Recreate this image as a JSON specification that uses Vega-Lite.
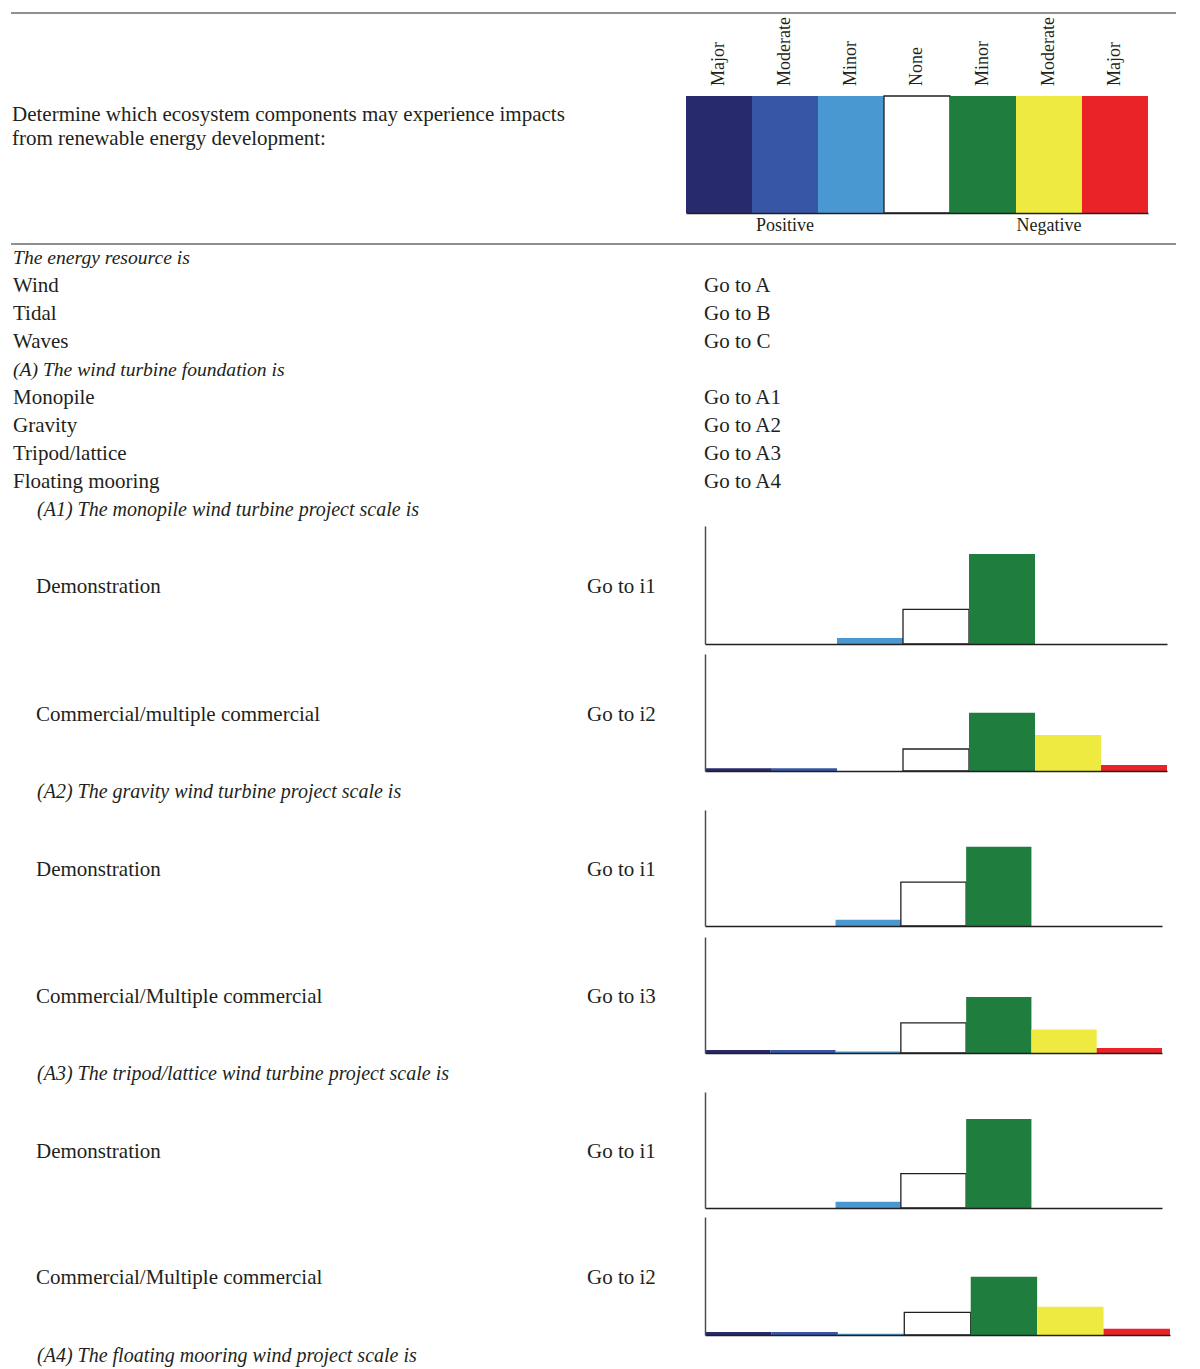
{
  "$schema": "https://vega.github.io/schema/vega-lite/v6.json",
  "padding": {"left": 10, "top": 12, "right": 0, "bottom": 0},
  "bounds": "flush",
  "spacing": 0,
  "config": {
    "view": {"stroke": null},
    "text": {"font": "Liberation Serif", "color": "#231f20"}
  },
  "datasets": {
    "levels": [
      {"level": "Positive major", "label": "Major", "swatch": 1},
      {"level": "Positive moderate", "label": "Moderate", "swatch": 1},
      {"level": "Positive minor", "label": "Minor", "swatch": 1},
      {"level": "None", "label": "None", "swatch": 1},
      {"level": "Negative minor", "label": "Minor", "swatch": 1},
      {"level": "Negative moderate", "label": "Moderate", "swatch": 1},
      {"level": "Negative major", "label": "Major", "swatch": 1}
    ],
    "sides": [
      {"level": "Positive moderate", "side": "Positive"},
      {"level": "Negative moderate", "side": "Negative"}
    ],
    "list": [
      {"line": 1, "col": "label", "text": "The energy resource is", "italic": true, "indent": false},
      {"line": 2, "col": "label", "text": "Wind", "italic": false, "indent": false},
      {"line": 2, "col": "goto", "text": "Go to A", "italic": false, "indent": false},
      {"line": 3, "col": "label", "text": "Tidal", "italic": false, "indent": false},
      {"line": 3, "col": "goto", "text": "Go to B", "italic": false, "indent": false},
      {"line": 4, "col": "label", "text": "Waves", "italic": false, "indent": false},
      {"line": 4, "col": "goto", "text": "Go to C", "italic": false, "indent": false},
      {"line": 5, "col": "label", "text": "(A) The wind turbine foundation is", "italic": true, "indent": false},
      {"line": 6, "col": "label", "text": "Monopile", "italic": false, "indent": false},
      {"line": 6, "col": "goto", "text": "Go to A1", "italic": false, "indent": false},
      {"line": 7, "col": "label", "text": "Gravity", "italic": false, "indent": false},
      {"line": 7, "col": "goto", "text": "Go to A2", "italic": false, "indent": false},
      {"line": 8, "col": "label", "text": "Tripod/lattice", "italic": false, "indent": false},
      {"line": 8, "col": "goto", "text": "Go to A3", "italic": false, "indent": false},
      {"line": 9, "col": "label", "text": "Floating mooring", "italic": false, "indent": false},
      {"line": 9, "col": "goto", "text": "Go to A4", "italic": false, "indent": false},
      {"line": 10, "col": "label", "text": "(A1) The monopile wind turbine project scale is", "italic": true, "indent": true}
    ],
    "rowText": [
      {"chart": "A1 demonstration", "col": "label", "text": "Demonstration"},
      {"chart": "A1 demonstration", "col": "goto", "text": "Go to i1"},
      {"chart": "A1 commercial", "col": "label", "text": "Commercial/multiple commercial"},
      {"chart": "A1 commercial", "col": "goto", "text": "Go to i2"},
      {"chart": "A2 demonstration", "col": "label", "text": "Demonstration"},
      {"chart": "A2 demonstration", "col": "goto", "text": "Go to i1"},
      {"chart": "A2 commercial", "col": "label", "text": "Commercial/Multiple commercial"},
      {"chart": "A2 commercial", "col": "goto", "text": "Go to i3"},
      {"chart": "A3 demonstration", "col": "label", "text": "Demonstration"},
      {"chart": "A3 demonstration", "col": "goto", "text": "Go to i1"},
      {"chart": "A3 commercial", "col": "label", "text": "Commercial/Multiple commercial"},
      {"chart": "A3 commercial", "col": "goto", "text": "Go to i2"}
    ],
    "sections": [
      {"section": "A2", "col": "label", "text": "(A2) The gravity wind turbine project scale is"},
      {"section": "A3", "col": "label", "text": "(A3) The tripod/lattice wind turbine project scale is"},
      {"section": "A4", "col": "label", "text": "(A4) The floating mooring wind project scale is"}
    ],
    "impacts": [
      {"chart": "A1 demonstration", "level": "Positive major", "value": 0},
      {"chart": "A1 demonstration", "level": "Positive moderate", "value": 0},
      {"chart": "A1 demonstration", "level": "Positive minor", "value": 5.1},
      {"chart": "A1 demonstration", "level": "None", "value": 29.3},
      {"chart": "A1 demonstration", "level": "Negative minor", "value": 76.3},
      {"chart": "A1 demonstration", "level": "Negative moderate", "value": 0},
      {"chart": "A1 demonstration", "level": "Negative major", "value": 0},
      {"chart": "A1 commercial", "level": "Positive major", "value": 2.3},
      {"chart": "A1 commercial", "level": "Positive moderate", "value": 2.3},
      {"chart": "A1 commercial", "level": "Positive minor", "value": 0},
      {"chart": "A1 commercial", "level": "None", "value": 18.8},
      {"chart": "A1 commercial", "level": "Negative minor", "value": 49.8},
      {"chart": "A1 commercial", "level": "Negative moderate", "value": 30.8},
      {"chart": "A1 commercial", "level": "Negative major", "value": 5.1},
      {"chart": "A2 demonstration", "level": "Positive major", "value": 0},
      {"chart": "A2 demonstration", "level": "Positive moderate", "value": 0},
      {"chart": "A2 demonstration", "level": "Positive minor", "value": 5.4},
      {"chart": "A2 demonstration", "level": "None", "value": 37.9},
      {"chart": "A2 demonstration", "level": "Negative minor", "value": 68.4},
      {"chart": "A2 demonstration", "level": "Negative moderate", "value": 0},
      {"chart": "A2 demonstration", "level": "Negative major", "value": 0},
      {"chart": "A2 commercial", "level": "Positive major", "value": 2.6},
      {"chart": "A2 commercial", "level": "Positive moderate", "value": 2.6},
      {"chart": "A2 commercial", "level": "Positive minor", "value": 1.3},
      {"chart": "A2 commercial", "level": "None", "value": 25.9},
      {"chart": "A2 commercial", "level": "Negative minor", "value": 48.3},
      {"chart": "A2 commercial", "level": "Negative moderate", "value": 20.3},
      {"chart": "A2 commercial", "level": "Negative major", "value": 4.3},
      {"chart": "A3 demonstration", "level": "Positive major", "value": 0},
      {"chart": "A3 demonstration", "level": "Positive moderate", "value": 0},
      {"chart": "A3 demonstration", "level": "Positive minor", "value": 5.4},
      {"chart": "A3 demonstration", "level": "None", "value": 29.6},
      {"chart": "A3 demonstration", "level": "Negative minor", "value": 76.7},
      {"chart": "A3 demonstration", "level": "Negative moderate", "value": 0},
      {"chart": "A3 demonstration", "level": "Negative major", "value": 0},
      {"chart": "A3 commercial", "level": "Positive major", "value": 2.5},
      {"chart": "A3 commercial", "level": "Positive moderate", "value": 2.5},
      {"chart": "A3 commercial", "level": "Positive minor", "value": 1.1},
      {"chart": "A3 commercial", "level": "None", "value": 19.1},
      {"chart": "A3 commercial", "level": "Negative minor", "value": 49.4},
      {"chart": "A3 commercial", "level": "Negative moderate", "value": 23.9},
      {"chart": "A3 commercial", "level": "Negative major", "value": 5.3}
    ]
  },
  "vconcat": [
    {
      "width": 1165, "height": 231,
      "layer": [
        {
          "data": {"values": [{"edge": "top"}, {"edge": "bottom"}]},
          "mark": {"type": "rule", "color": "#231f20", "strokeWidth": 1},
          "encoding": {"y": {"field": "edge", "type": "nominal", "scale": {"type": "point", "domain": ["top", "bottom"], "padding": 0}, "axis": null}}
        },
        {
          "data": {"values": [{"col": "label", "text": "Determine which ecosystem components may experience impacts\nfrom renewable energy development:"}]},
          "mark": {"type": "text", "align": "left", "baseline": "middle", "fontSize": 21, "lineBreak": "\n", "lineHeight": 24, "dy": -13.5},
          "encoding": {
            "x": {"field": "col", "type": "nominal", "scale": {"type": "point", "domain": ["label", "goto"], "range": [1, 693], "padding": 0}, "axis": null},
            "text": {"field": "text"}
          }
        },
        {
          "data": {"name": "levels"},
          "layer": [
            {
              "mark": {"type": "bar", "stroke": "#231f20"},
              "encoding": {
                "x": {"field": "level", "type": "nominal", "sort": null, "scale": {"type": "band", "domain": ["Positive major", "Positive moderate", "Positive minor", "None", "Negative minor", "Negative moderate", "Negative major"], "range": [675, 1137], "paddingInner": 0, "paddingOuter": 0}, "axis": {"title": null, "labels": false, "ticks": false, "grid": false, "domainColor": "#231f20", "domainWidth": 1.5, "offset": -31, "zindex": 1}},
                "y": {"field": "swatch", "type": "quantitative", "scale": {"domain": [0, 1], "range": [200, 83], "nice": false}, "axis": null},
                "color": {"field": "level", "type": "nominal", "scale": {"domain": ["Positive major", "Positive moderate", "Positive minor", "None", "Negative minor", "Negative moderate", "Negative major"], "range": ["#272a6c", "#3756a5", "#4a98d1", "#ffffff", "#1f7d3e", "#eeea40", "#e92327"]}, "legend": null},
                "strokeWidth": {"condition": {"test": "datum.level === 'None'", "value": 1.3}, "value": 0}
              }
            },
            {
              "mark": {"type": "text", "angle": 270, "align": "left", "baseline": "middle", "dx": 10, "fontSize": 18},
              "encoding": {
                "x": {"field": "level", "type": "nominal", "sort": null},
                "y": {"field": "swatch", "type": "quantitative"},
                "text": {"field": "label"}
              }
            },
            {
              "data": {"name": "sides"},
              "mark": {"type": "text", "align": "center", "baseline": "middle", "dy": 13, "fontSize": 18},
              "encoding": {
                "x": {"field": "level", "type": "nominal", "sort": null},
                "y": {"datum": 0},
                "text": {"field": "side"}
              }
            }
          ]
        }
      ],
      "resolve": {"scale": {"x": "independent", "y": "independent"}}
    },
    {
      "width": 1165, "height": 280,
      "data": {"name": "list"},
      "encoding": {
        "x": {"field": "col", "type": "nominal", "scale": {"type": "point", "domain": ["label", "goto"], "range": [2, 693], "padding": 0}, "axis": null},
        "y": {"field": "line", "type": "ordinal", "scale": {"type": "point", "domain": [1, 2, 3, 4, 5, 6, 7, 8, 9, 10], "padding": 0.5}, "axis": null},
        "text": {"field": "text"}
      },
      "layer": [
        {"transform": [{"filter": "!datum.italic"}], "mark": {"type": "text", "align": "left", "baseline": "middle", "fontSize": 21}},
        {"transform": [{"filter": "datum.italic && !datum.indent"}], "mark": {"type": "text", "align": "left", "baseline": "middle", "fontSize": 19.6, "fontStyle": "italic"}},
        {"transform": [{"filter": "datum.italic && datum.indent"}], "mark": {"type": "text", "align": "left", "baseline": "middle", "fontSize": 20, "fontStyle": "italic", "dx": 24}}
      ]
    },
    {"width": 1165, "height": 2, "data": {"values": [{"t": ""}]}, "mark": "text", "encoding": {"text": {"field": "t"}}},
    {
      "width": 1165, "height": 118,
      "layer": [
        {
          "data": {"name": "rowText"}, "transform": [{"filter": "datum.chart === 'A1 demonstration'"}],
          "mark": {"type": "text", "align": "left", "baseline": "middle", "fontSize": 21, "dy": 2},
          "encoding": {"x": {"field": "col", "type": "nominal", "scale": {"type": "point", "domain": ["label", "goto"], "range": [25, 576], "padding": 0}, "axis": null}, "text": {"field": "text"}}
        },
        {
          "data": {"name": "impacts"}, "transform": [{"filter": "datum.chart === 'A1 demonstration'"}],
          "mark": {"type": "bar", "stroke": "#231f20"},
          "encoding": {
            "x": {"field": "level", "type": "nominal", "sort": null, "scale": {"type": "band", "domain": ["Positive major", "Positive moderate", "Positive minor", "None", "Negative minor", "Negative moderate", "Negative major"], "range": [694, 1156], "paddingInner": 0, "paddingOuter": 0}, "axis": {"title": null, "labels": false, "ticks": false, "grid": false, "domainColor": "#231f20", "domainWidth": 1.5, "zindex": 1}},
            "y": {"field": "value", "type": "quantitative", "scale": {"domain": [0, 100], "nice": false}, "axis": {"title": null, "labels": false, "ticks": false, "grid": false, "domainColor": "#4d4d4d", "domainWidth": 1.5, "offset": -694, "zindex": 1}},
            "color": {"field": "level", "type": "nominal", "scale": {"domain": ["Positive major", "Positive moderate", "Positive minor", "None", "Negative minor", "Negative moderate", "Negative major"], "range": ["#272a6c", "#3756a5", "#4a98d1", "#ffffff", "#1f7d3e", "#eeea40", "#e92327"]}, "legend": null},
            "strokeWidth": {"condition": {"test": "datum.level === 'None'", "value": 1.3}, "value": 0}
          }
        }
      ],
      "resolve": {"scale": {"x": "independent"}}
    },
    {"width": 1165, "height": 10, "data": {"values": [{"t": ""}]}, "mark": "text", "encoding": {"text": {"field": "t"}}},
    {
      "width": 1165, "height": 117,
      "layer": [
        {
          "data": {"name": "rowText"}, "transform": [{"filter": "datum.chart === 'A1 commercial'"}],
          "mark": {"type": "text", "align": "left", "baseline": "middle", "fontSize": 21, "dy": 2},
          "encoding": {"x": {"field": "col", "type": "nominal", "scale": {"type": "point", "domain": ["label", "goto"], "range": [25, 576], "padding": 0}, "axis": null}, "text": {"field": "text"}}
        },
        {
          "data": {"name": "impacts"}, "transform": [{"filter": "datum.chart === 'A1 commercial'"}],
          "mark": {"type": "bar", "stroke": "#231f20"},
          "encoding": {
            "x": {"field": "level", "type": "nominal", "sort": null, "scale": {"type": "band", "domain": ["Positive major", "Positive moderate", "Positive minor", "None", "Negative minor", "Negative moderate", "Negative major"], "range": [694, 1156], "paddingInner": 0, "paddingOuter": 0}, "axis": {"title": null, "labels": false, "ticks": false, "grid": false, "domainColor": "#231f20", "domainWidth": 1.5, "zindex": 1}},
            "y": {"field": "value", "type": "quantitative", "scale": {"domain": [0, 100], "nice": false}, "axis": {"title": null, "labels": false, "ticks": false, "grid": false, "domainColor": "#4d4d4d", "domainWidth": 1.5, "offset": -694, "zindex": 1}},
            "color": {"field": "level", "type": "nominal", "scale": {"domain": ["Positive major", "Positive moderate", "Positive minor", "None", "Negative minor", "Negative moderate", "Negative major"], "range": ["#272a6c", "#3756a5", "#4a98d1", "#ffffff", "#1f7d3e", "#eeea40", "#e92327"]}, "legend": null},
            "strokeWidth": {"condition": {"test": "datum.level === 'None'", "value": 1.3}, "value": 0}
          }
        }
      ],
      "resolve": {"scale": {"x": "independent"}}
    },
    {
      "width": 1165, "height": 39,
      "data": {"name": "sections"}, "transform": [{"filter": "datum.section === 'A2'"}],
      "mark": {"type": "text", "align": "left", "baseline": "middle", "fontSize": 20, "fontStyle": "italic", "dy": 1},
      "encoding": {"x": {"field": "col", "type": "nominal", "scale": {"type": "point", "domain": ["label", "goto"], "range": [26, 576], "padding": 0}, "axis": null}, "text": {"field": "text"}}
    },
    {
      "width": 1165, "height": 116,
      "layer": [
        {
          "data": {"name": "rowText"}, "transform": [{"filter": "datum.chart === 'A2 demonstration'"}],
          "mark": {"type": "text", "align": "left", "baseline": "middle", "fontSize": 21, "dy": 2},
          "encoding": {"x": {"field": "col", "type": "nominal", "scale": {"type": "point", "domain": ["label", "goto"], "range": [25, 576], "padding": 0}, "axis": null}, "text": {"field": "text"}}
        },
        {
          "data": {"name": "impacts"}, "transform": [{"filter": "datum.chart === 'A2 demonstration'"}],
          "mark": {"type": "bar", "stroke": "#231f20"},
          "encoding": {
            "x": {"field": "level", "type": "nominal", "sort": null, "scale": {"type": "band", "domain": ["Positive major", "Positive moderate", "Positive minor", "None", "Negative minor", "Negative moderate", "Negative major"], "range": [694, 1151], "paddingInner": 0, "paddingOuter": 0}, "axis": {"title": null, "labels": false, "ticks": false, "grid": false, "domainColor": "#231f20", "domainWidth": 1.5, "zindex": 1}},
            "y": {"field": "value", "type": "quantitative", "scale": {"domain": [0, 100], "nice": false}, "axis": {"title": null, "labels": false, "ticks": false, "grid": false, "domainColor": "#4d4d4d", "domainWidth": 1.5, "offset": -694, "zindex": 1}},
            "color": {"field": "level", "type": "nominal", "scale": {"domain": ["Positive major", "Positive moderate", "Positive minor", "None", "Negative minor", "Negative moderate", "Negative major"], "range": ["#272a6c", "#3756a5", "#4a98d1", "#ffffff", "#1f7d3e", "#eeea40", "#e92327"]}, "legend": null},
            "strokeWidth": {"condition": {"test": "datum.level === 'None'", "value": 1.3}, "value": 0}
          }
        }
      ],
      "resolve": {"scale": {"x": "independent"}}
    },
    {"width": 1165, "height": 11, "data": {"values": [{"t": ""}]}, "mark": "text", "encoding": {"text": {"field": "t"}}},
    {
      "width": 1165, "height": 116,
      "layer": [
        {
          "data": {"name": "rowText"}, "transform": [{"filter": "datum.chart === 'A2 commercial'"}],
          "mark": {"type": "text", "align": "left", "baseline": "middle", "fontSize": 21, "dy": 2},
          "encoding": {"x": {"field": "col", "type": "nominal", "scale": {"type": "point", "domain": ["label", "goto"], "range": [25, 576], "padding": 0}, "axis": null}, "text": {"field": "text"}}
        },
        {
          "data": {"name": "impacts"}, "transform": [{"filter": "datum.chart === 'A2 commercial'"}],
          "mark": {"type": "bar", "stroke": "#231f20"},
          "encoding": {
            "x": {"field": "level", "type": "nominal", "sort": null, "scale": {"type": "band", "domain": ["Positive major", "Positive moderate", "Positive minor", "None", "Negative minor", "Negative moderate", "Negative major"], "range": [694, 1151], "paddingInner": 0, "paddingOuter": 0}, "axis": {"title": null, "labels": false, "ticks": false, "grid": false, "domainColor": "#231f20", "domainWidth": 1.5, "zindex": 1}},
            "y": {"field": "value", "type": "quantitative", "scale": {"domain": [0, 100], "nice": false}, "axis": {"title": null, "labels": false, "ticks": false, "grid": false, "domainColor": "#4d4d4d", "domainWidth": 1.5, "offset": -694, "zindex": 1}},
            "color": {"field": "level", "type": "nominal", "scale": {"domain": ["Positive major", "Positive moderate", "Positive minor", "None", "Negative minor", "Negative moderate", "Negative major"], "range": ["#272a6c", "#3756a5", "#4a98d1", "#ffffff", "#1f7d3e", "#eeea40", "#e92327"]}, "legend": null},
            "strokeWidth": {"condition": {"test": "datum.level === 'None'", "value": 1.3}, "value": 0}
          }
        }
      ],
      "resolve": {"scale": {"x": "independent"}}
    },
    {
      "width": 1165, "height": 39,
      "data": {"name": "sections"}, "transform": [{"filter": "datum.section === 'A3'"}],
      "mark": {"type": "text", "align": "left", "baseline": "middle", "fontSize": 20, "fontStyle": "italic", "dy": 1},
      "encoding": {"x": {"field": "col", "type": "nominal", "scale": {"type": "point", "domain": ["label", "goto"], "range": [26, 576], "padding": 0}, "axis": null}, "text": {"field": "text"}}
    },
    {
      "width": 1165, "height": 116,
      "layer": [
        {
          "data": {"name": "rowText"}, "transform": [{"filter": "datum.chart === 'A3 demonstration'"}],
          "mark": {"type": "text", "align": "left", "baseline": "middle", "fontSize": 21, "dy": 2},
          "encoding": {"x": {"field": "col", "type": "nominal", "scale": {"type": "point", "domain": ["label", "goto"], "range": [25, 576], "padding": 0}, "axis": null}, "text": {"field": "text"}}
        },
        {
          "data": {"name": "impacts"}, "transform": [{"filter": "datum.chart === 'A3 demonstration'"}],
          "mark": {"type": "bar", "stroke": "#231f20"},
          "encoding": {
            "x": {"field": "level", "type": "nominal", "sort": null, "scale": {"type": "band", "domain": ["Positive major", "Positive moderate", "Positive minor", "None", "Negative minor", "Negative moderate", "Negative major"], "range": [694, 1151], "paddingInner": 0, "paddingOuter": 0}, "axis": {"title": null, "labels": false, "ticks": false, "grid": false, "domainColor": "#231f20", "domainWidth": 1.5, "zindex": 1}},
            "y": {"field": "value", "type": "quantitative", "scale": {"domain": [0, 100], "nice": false}, "axis": {"title": null, "labels": false, "ticks": false, "grid": false, "domainColor": "#4d4d4d", "domainWidth": 1.5, "offset": -694, "zindex": 1}},
            "color": {"field": "level", "type": "nominal", "scale": {"domain": ["Positive major", "Positive moderate", "Positive minor", "None", "Negative minor", "Negative moderate", "Negative major"], "range": ["#272a6c", "#3756a5", "#4a98d1", "#ffffff", "#1f7d3e", "#eeea40", "#e92327"]}, "legend": null},
            "strokeWidth": {"condition": {"test": "datum.level === 'None'", "value": 1.3}, "value": 0}
          }
        }
      ],
      "resolve": {"scale": {"x": "independent"}}
    },
    {"width": 1165, "height": 9, "data": {"values": [{"t": ""}]}, "mark": "text", "encoding": {"text": {"field": "t"}}},
    {
      "width": 1165, "height": 118,
      "layer": [
        {
          "data": {"name": "rowText"}, "transform": [{"filter": "datum.chart === 'A3 commercial'"}],
          "mark": {"type": "text", "align": "left", "baseline": "middle", "fontSize": 21, "dy": 2},
          "encoding": {"x": {"field": "col", "type": "nominal", "scale": {"type": "point", "domain": ["label", "goto"], "range": [25, 576], "padding": 0}, "axis": null}, "text": {"field": "text"}}
        },
        {
          "data": {"name": "impacts"}, "transform": [{"filter": "datum.chart === 'A3 commercial'"}],
          "mark": {"type": "bar", "stroke": "#231f20"},
          "encoding": {
            "x": {"field": "level", "type": "nominal", "sort": null, "scale": {"type": "band", "domain": ["Positive major", "Positive moderate", "Positive minor", "None", "Negative minor", "Negative moderate", "Negative major"], "range": [694, 1159], "paddingInner": 0, "paddingOuter": 0}, "axis": {"title": null, "labels": false, "ticks": false, "grid": false, "domainColor": "#231f20", "domainWidth": 1.5, "zindex": 1}},
            "y": {"field": "value", "type": "quantitative", "scale": {"domain": [0, 100], "nice": false}, "axis": {"title": null, "labels": false, "ticks": false, "grid": false, "domainColor": "#4d4d4d", "domainWidth": 1.5, "offset": -694, "zindex": 1}},
            "color": {"field": "level", "type": "nominal", "scale": {"domain": ["Positive major", "Positive moderate", "Positive minor", "None", "Negative minor", "Negative moderate", "Negative major"], "range": ["#272a6c", "#3756a5", "#4a98d1", "#ffffff", "#1f7d3e", "#eeea40", "#e92327"]}, "legend": null},
            "strokeWidth": {"condition": {"test": "datum.level === 'None'", "value": 1.3}, "value": 0}
          }
        }
      ],
      "resolve": {"scale": {"x": "independent"}}
    },
    {
      "width": 1165, "height": 40,
      "data": {"name": "sections"}, "transform": [{"filter": "datum.section === 'A4'"}],
      "mark": {"type": "text", "align": "left", "baseline": "middle", "fontSize": 20, "fontStyle": "italic", "dy": 1},
      "encoding": {"x": {"field": "col", "type": "nominal", "scale": {"type": "point", "domain": ["label", "goto"], "range": [26, 576], "padding": 0}, "axis": null}, "text": {"field": "text"}}
    }
  ]
}
